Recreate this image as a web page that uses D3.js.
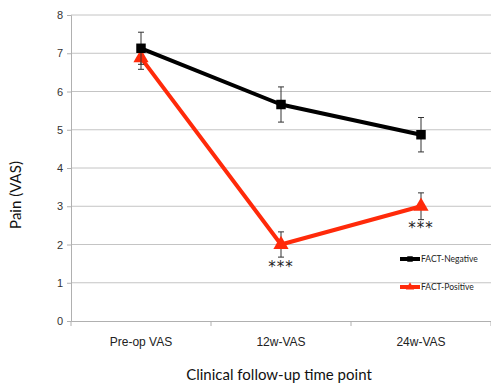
<!DOCTYPE html>
<html>
<head>
<meta charset="utf-8">
<script src="https://cdn.jsdelivr.net/npm/d3@7"></script>
<style>
  html, body { margin: 0; padding: 0; background: #fff; }
  svg { display: block; font-family: Lato, "Open Sans", sans-serif; }
</style>
</head>
<body>
<svg id="chart" width="491" height="385"></svg>
<script>
// valeurs
const categories = ['Pre-op VAS', '12w-VAS', '24w-VAS'];
const negMean = [7.13, 5.66, 4.87];
const negErr = [0.42, 0.46, 0.45];
const posMean = [6.88, 2.0, 3.0];
const posErr = [0.3, 0.33, 0.35];
const yTicks = [0, 1, 2, 3, 4, 5, 6, 7, 8];
const stars = ['', '***', '***'];
const seriesNames = ['FACT-Negative', 'FACT-Positive'];

const W = 491, H = 385;
const m = { top: 15, right: 0, bottom: 64, left: 71 };
const svg = d3.select('#chart');

const x = d3.scaleBand().domain(categories).range([m.left, W - m.right]);
const y = d3.scaleLinear().domain([0, 8]).range([H - m.bottom, m.top]);

// grille
svg.append('g').selectAll('line')
  .data(yTicks.slice(1))
  .enter().append('line')
  .attr('x1', m.left).attr('x2', W)
  .attr('y1', d => y(d)).attr('y2', d => y(d))
  .attr('stroke', '#c4c4c4').attr('stroke-width', 1);

// axe Y
const ya = svg.append('g').attr('transform', `translate(${m.left},0)`)
  .call(d3.axisLeft(y).tickValues(yTicks).tickSize(4).tickPadding(4));
ya.select('.domain').attr('stroke', '#b0b0b0');
ya.selectAll('.tick line').attr('stroke', '#b0b0b0');
ya.selectAll('text').attr('font-size', 11).attr('fill', '#333');

// axe X
const xa = svg.append('g').attr('transform', `translate(0,${y(0)})`)
  .call(d3.axisBottom(x).tickSize(0).tickPadding(16));
xa.select('.domain').attr('stroke', '#b0b0b0');
xa.selectAll('text').attr('font-size', 12).attr('fill', '#222');
// graduations entre catégories
svg.append('g').selectAll('line')
  .data(categories.map(c => x(c)).concat([x(categories[categories.length - 1]) + x.bandwidth()]))
  .enter().append('line')
  .attr('x1', d => d).attr('x2', d => d)
  .attr('y1', y(0)).attr('y2', y(0) + 5)
  .attr('stroke', '#b0b0b0');

const cx = c => x(c) + x.bandwidth() / 2;

function drawSeries(mean, err, color, shape) {
  const g = svg.append('g');
  const pts = categories.map((c, i) => ({ c, v: mean[i], e: err[i] }));
  g.append('path').datum(pts)
    .attr('fill', 'none').attr('stroke', color).attr('stroke-width', 4)
    .attr('stroke-linejoin', 'round')
    .attr('d', d3.line().x(d => cx(d.c)).y(d => y(d.v)));
  const eb = g.selectAll('.eb').data(pts).enter().append('g').attr('stroke', '#333').attr('stroke-width', 1);
  eb.append('line').attr('x1', d => cx(d.c)).attr('x2', d => cx(d.c))
    .attr('y1', d => y(d.v + d.e)).attr('y2', d => y(d.v - d.e));
  eb.append('line').attr('x1', d => cx(d.c) - 3).attr('x2', d => cx(d.c) + 3)
    .attr('y1', d => y(d.v + d.e)).attr('y2', d => y(d.v + d.e));
  eb.append('line').attr('x1', d => cx(d.c) - 3).attr('x2', d => cx(d.c) + 3)
    .attr('y1', d => y(d.v - d.e)).attr('y2', d => y(d.v - d.e));
  g.selectAll('.mk').data(pts).enter().append('path')
    .attr('transform', d => `translate(${cx(d.c)},${y(d.v)})`)
    .attr('d', d3.symbol().type(shape).size(shape === d3.symbolSquare ? 90 : 100))
    .attr('fill', color);
}

drawSeries(posMean, posErr, '#ff2a0a', d3.symbolTriangle);
drawSeries(negMean, negErr, '#000', d3.symbolSquare);

// astérisques
svg.append('g').selectAll('text')
  .data(categories.map((c, i) => ({ c, s: stars[i], v: posMean[i] })).filter(d => d.s))
  .enter().append('text')
  .attr('x', d => cx(d.c)).attr('y', d => y(d.v) + 27)
  .attr('text-anchor', 'middle').attr('font-size', 15).attr('fill', '#222')
  .attr('letter-spacing', 1)
  .attr('font-family', 'DejaVu Sans')
  .text(d => d.s);

// légende
const legColors = ['#000', '#ff2a0a'];
const legShapes = [d3.symbolSquare, d3.symbolTriangle];
const leg = svg.append('g').selectAll('g').data(seriesNames).enter().append('g')
  .attr('transform', (d, i) => `translate(400,${259 + i * 28})`);
leg.append('line').attr('x1', 0).attr('x2', 20).attr('stroke', (d, i) => legColors[i]).attr('stroke-width', 4);
leg.append('path').attr('transform', 'translate(10,0)')
  .attr('d', (d, i) => d3.symbol().type(legShapes[i]).size(30)())
  .attr('fill', (d, i) => legColors[i]);
leg.append('text').attr('x', 21).attr('y', 3).attr('font-size', 8.5).attr('fill', '#222').text(d => d);

// titres des axes
svg.append('text').attr('x', 279).attr('y', 380).attr('text-anchor', 'middle')
  .attr('font-size', 15).attr('fill', '#111').text('Clinical follow-up time point');
svg.append('text').attr('transform', 'translate(21,195) rotate(-90)').attr('text-anchor', 'middle')
  .attr('font-size', 15).attr('fill', '#111').text('Pain (VAS)');
</script>
</body>
</html>
